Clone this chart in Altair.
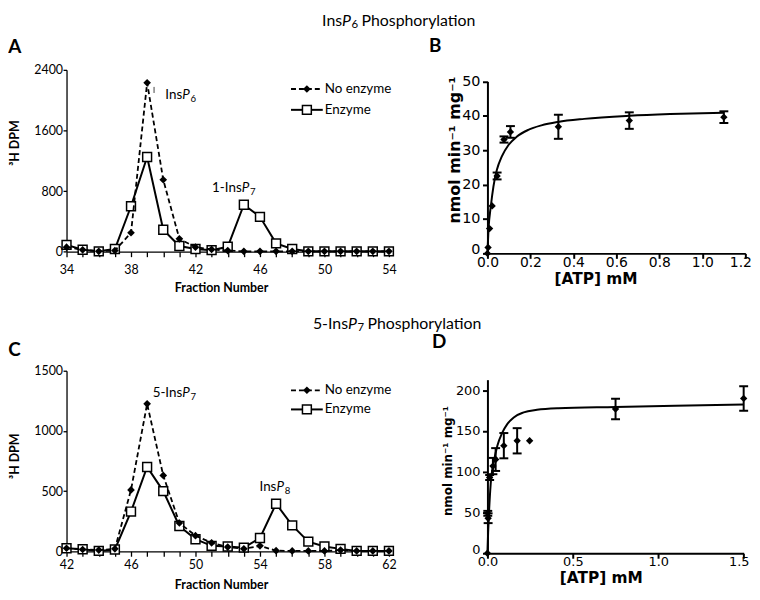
import altair as alt
import pandas as pd

# ---------------- data ----------------
A_fraction = list(range(34, 55))
A_no_enzyme = [60, 25, 5, 15, 250, 2230, 950, 170, 60, 30, 15, 5, 5, 5, 5, 5, 5, 5, 5, 5, 5]
A_enzyme = [90, 25, 5, 35, 600, 1250, 290, 75, 35, 20, 65, 620, 460, 110, 35, 5, 5, 5, 5, 5, 5]

C_fraction = list(range(42, 63))
C_no_enzyme = [25, 15, 10, 20, 510, 1225, 630, 235, 130, 70, 35, 20, 45, 5, 3, 3, 3, 10, 3, 3, 3]
C_enzyme = [25, 17, 3, 15, 330, 700, 500, 210, 100, 45, 40, 30, 110, 395, 215, 80, 40, 20, 3, 3, 3]

B_atp = [0, 0.003, 0.01, 0.022, 0.045, 0.077, 0.107, 0.33, 0.66, 1.1]
B_rate = [0, 1.7, 7.2, 13.8, 22.5, 33.1, 35.3, 36.8, 38.6, 39.6]
B_err = [0, 0, 0, 0, 1.0, 0.9, 1.7, 3.5, 2.4, 1.7]
B_fit_atp = [0, 0.005, 0.016, 0.028, 0.044, 0.067, 0.098, 0.136, 0.19, 0.251, 0.328, 0.45, 0.66, 0.85, 1.1]
B_fit_rate = [0, 7, 13.8, 19.5, 24.3, 28.2, 31.5, 33.9, 35.9, 37.2, 38.2, 39.1, 40.0, 40.5, 40.9]

D_atp = [0, 0.002, 0.004, 0.013, 0.032, 0.048, 0.096, 0.174, 0.247, 0.75, 1.5]
D_rate = [0, 49, 43, 93, 107, 115, 132, 138, 138, 177, 190]
D_err = [0, 3, 6, 3, 10, 14, 15.5, 15.5, 0, 12.5, 15]
D_fit_atp = [0, 0.004, 0.009, 0.019, 0.038, 0.058, 0.087, 0.116, 0.154, 0.212, 0.29, 0.415, 0.75, 1.1, 1.5]
D_fit_rate = [0, 25, 49, 85, 113, 132, 148, 158.5, 166.7, 172.8, 176, 178, 179.5, 181, 182.6]

legend_labels = ["No enzyme", "Enzyme"]

FA = "Lato"
FB = "DejaVu Sans"
K = "black"


def df(**cols):
    return pd.DataFrame(cols)


# ---------------- helpers ----------------
def excel_x(domain, values, start, title_y, label_pad):
    return alt.X(
        "f:Q",
        scale=alt.Scale(domain=domain, nice=False, zero=False),
        axis=alt.Axis(
            values=values,
            labelExpr=f"(datum.value - {start}) % 4 == 0 ? datum.label : ''",
            labelOverlap=False, labelFlush=False, grid=False, title="Fraction Number", format="d",
            domainColor=K, domainWidth=1.3, tickColor=K, tickWidth=1.3, tickSize=5,
            labelFont=FA, labelFontSize=12.5, labelColor=K, labelBaseline="middle",
            labelPadding=label_pad,
            titleFont=FA, titleFontSize=12.5, titleFontWeight="bold", titleColor=K,
            titleX=155.8, titleY=title_y, titleBaseline="middle", titleAlign="center",
        ),
    )


def excel_y(domain, values, title_y):
    return alt.Y(
        "v:Q",
        scale=alt.Scale(domain=domain, nice=False),
        axis=alt.Axis(
            values=values, grid=False, title="³H DPM", format="d",
            domainColor=K, domainWidth=1.3, tickColor=K, tickWidth=1.3, tickSize=3.5,
            labelFont=FA, labelFontSize=12.5, labelColor=K, labelPadding=0.5,
            titleFont=FA, titleFontSize=12.5, titleFontWeight="bold", titleColor=K,
            titleAngle=270, titleX=-52.2, titleY=title_y, titleBaseline="middle",
            titleAlign="center",
        ),
    )


def rich_data(X, Y, x, y, parts, size=13.5):
    # parts: (text, align, dx, italic, sub)
    layers = []
    for text, align, dx, italic, sub in parts:
        layers.append(
            alt.Chart(df(f=[x], v=[y], t=[text])).mark_text(
                align=align, baseline="middle", dx=dx, dy=(size * 0.3 if sub else 0),
                font=FA, fontSize=(size * 0.72 if sub else size),
                fontStyle=("italic" if italic else "normal"), color=K,
            ).encode(x=X, y=Y, text="t:N")
        )
    return layers


def rich_px(px, py, parts, size=16, font=FA, weight="normal"):
    layers = []
    for text, align, dx, italic, sub in parts:
        layers.append(
            alt.Chart(df(t=[text])).mark_text(
                align=align, baseline="middle", dx=dx, dy=(size * 0.3 if sub else 0),
                font=font, fontSize=(size * 0.72 if sub else size), fontWeight=weight,
                fontStyle=("italic" if italic else "normal"), color=K,
            ).encode(x=alt.value(px), y=alt.value(py), text="t:N")
        )
    return layers


def legend(x0, x1, y1, y2):
    xm = (x0 + x1) / 2
    layers = []
    one = df(t=["x"])
    layers.append(alt.Chart(one).mark_rule(color=K, strokeWidth=1.8, strokeDash=[5, 3]).encode(
        x=alt.value(x0), x2=alt.value(x1), y=alt.value(y1)))
    layers.append(alt.Chart(one).mark_point(shape="diamond", size=60, filled=True, color=K, opacity=1).encode(
        x=alt.value(xm), y=alt.value(y1)))
    layers.append(alt.Chart(one).mark_rule(color=K, strokeWidth=2).encode(
        x=alt.value(x0), x2=alt.value(x1), y=alt.value(y2)))
    layers.append(alt.Chart(one).mark_point(shape="square", size=80, filled=True, fill="white",
                                            stroke=K, strokeWidth=1.5, opacity=1).encode(
        x=alt.value(xm), y=alt.value(y2)))
    for lab, yy in zip(legend_labels, [y1, y2]):
        layers.append(alt.Chart(df(t=[lab])).mark_text(
            align="left", baseline="middle", font=FA, fontSize=13.5, color=K
        ).encode(x=alt.value(x1 + 2), y=alt.value(yy), text="t:N"))
    return layers


def excel_series(X, Y, frac, noenz, enz):
    d_enz = df(f=frac, v=enz)
    d_no = df(f=frac, v=noenz)
    return [
        alt.Chart(d_enz).mark_line(color=K, strokeWidth=2).encode(x=X, y=Y),
        alt.Chart(d_enz).mark_point(shape="square", size=80, filled=True, fill="white",
                                    stroke=K, strokeWidth=1.5, opacity=1).encode(x=X, y=Y),
        alt.Chart(d_no).mark_line(color=K, strokeWidth=1.8, strokeDash=[5, 3]).encode(x=X, y=Y),
        alt.Chart(d_no).mark_point(shape="diamond", size=60, filled=True, color=K, opacity=1).encode(x=X, y=Y),
    ]


def letter(ch, px, py):
    return alt.Chart(df(t=[ch])).mark_text(
        align="left", baseline="middle", font=FA, fontSize=19, fontWeight="bold", color=K
    ).encode(x=alt.value(px), y=alt.value(py), text="t:N")


# ---------------- panel A ----------------
XA = excel_x([34, 54], A_fraction, 34, 36, 13)
YA = excel_y([0, 2400], [0, 800, 1600, 2400], 73.3)
A_layers = excel_series(XA, YA, A_fraction, A_no_enzyme, A_enzyme)
A_layers.append(alt.Chart(df(f=[39.43], v=[2095], v2=[2175])).mark_rule(color="#444", strokeWidth=1).encode(
    x=XA, y=YA, y2="v2:Q"))
A_layers += rich_data(XA, YA, 41.18, 2068, [("Ins", "right", 0, False, False),
                                            ("P", "left", 0, True, False),
                                            ("6", "left", 8.3, False, True)])
A_layers += rich_data(XA, YA, 44.87, 842, [("1-Ins", "right", 0, False, False),
                                           ("P", "left", 0, True, False),
                                           ("7", "left", 8.3, False, True)])
A_layers += legend(226.3, 258.3, 19.3, 40.3)
A_layers.append(letter("A", -58.7, -22.7))
A_layers += rich_px(277.8, -49.7, [("Ins", "right", 0, False, False),
                                   ("P", "left", 0, True, False),
                                   ("6", "left", 9.5, False, True),
                                   ("Phosphorylation", "left", 19.5, False, False)])
panelA = alt.layer(*A_layers).properties(width=325, height=183.3)

# ---------------- panel C ----------------
XC = excel_x([42, 62], C_fraction, 42, 34, 8.7)
YC = excel_y([0, 1500], [0, 500, 1000, 1500], 85.7)
C_layers = excel_series(XC, YC, C_fraction, C_no_enzyme, C_enzyme)
C_layers += rich_data(XC, YC, 49.18, 1316, [("5-Ins", "right", 0, False, False),
                                            ("P", "left", 0, True, False),
                                            ("7", "left", 8.3, False, True)])
C_layers += rich_data(XC, YC, 55.02, 533, [("Ins", "right", 0, False, False),
                                           ("P", "left", 0, True, False),
                                           ("8", "left", 8.3, False, True)])
C_layers += legend(226.3, 258.3, 19.7, 39.0)
C_layers.append(letter("C", -58.7, -20.5))
C_layers += rich_px(283.8, -47.5, [("5-Ins", "right", 0, False, False),
                                   ("P", "left", 0, True, False),
                                   ("7", "left", 9.5, False, True),
                                   ("Phosphorylation", "left", 19.5, False, False)])
panelC = alt.layer(*C_layers).properties(width=325, height=182)


# ---------------- kinetics panels ----------------
def kin_x(domain, rng, values, last, tick_font, title_font, title_x, title_y, label_pad):
    return alt.X(
        "atp:Q",
        scale=alt.Scale(domain=domain, range=rng, nice=False, zero=False),
        axis=alt.Axis(
            values=values, format=".1f", title="[ATP] mM", grid=False,
            labelOverlap=False, labelFlush=False,
            domainColor=K, domainWidth=2, tickColor=K, tickWidth=2, tickSize=5,
            labelFont=FB, labelFontSize=tick_font, labelColor=K, labelBaseline="middle",
            labelPadding=label_pad,
            labelOffset={"condition": {"test": f"datum.value > {last}", "value": -5}, "value": 0},
            titleFont=FB, titleFontSize=title_font, titleFontWeight="bold", titleColor=K,
            titleX=title_x, titleY=title_y, titleBaseline="middle", titleAlign="center",
        ),
    )


def kin_y(domain, rng, values, tick_font, title_font, title_x, title_y, label_pad):
    return alt.Y(
        "rate:Q",
        scale=alt.Scale(domain=domain, range=rng, nice=False),
        axis=alt.Axis(
            values=values, title="nmol min⁻¹ mg⁻¹", grid=False,
            domainColor=K, domainWidth=2, tickColor=K, tickWidth=2, tickSize=5,
            labelFont=FB, labelFontSize=tick_font, labelColor=K, labelPadding=label_pad,
            labelOffset={"condition": {"test": "datum.value == 0", "value": -4}, "value": 0},
            titleFont=FB, titleFontSize=title_font, titleFontWeight="bold", titleColor=K,
            titleAngle=270, titleX=title_x, titleY=title_y, titleBaseline="middle",
            titleAlign="center",
        ),
    )


def kin_layers(X, Y, atp, rate, err, fit_atp, fit_rate):
    d = df(atp=atp, rate=rate, err=err)
    d["lo"] = d["rate"] - d["err"]
    d["hi"] = d["rate"] + d["err"]
    de = d[d["err"] > 0]
    dl = de.assign(rate=de["lo"])
    dh = de.assign(rate=de["hi"])
    return [
        alt.Chart(df(atp=fit_atp, rate=fit_rate)).mark_line(
            color=K, strokeWidth=2, interpolate="monotone").encode(x=X, y=Y),
        alt.Chart(dl).mark_rule(color=K, strokeWidth=2).encode(x=X, y=Y, y2="hi:Q"),
        alt.Chart(dl).mark_tick(color=K, orient="horizontal", size=9, thickness=2, opacity=1).encode(x=X, y=Y),
        alt.Chart(dh).mark_tick(color=K, orient="horizontal", size=9, thickness=2, opacity=1).encode(x=X, y=Y),
        alt.Chart(d).mark_point(shape="diamond", size=55, filled=True, color=K, opacity=1).encode(x=X, y=Y),
    ]


XB = kin_x([0, 1.2], [0, 260], [0, 0.2, 0.4, 0.6, 0.8, 1.0, 1.2], 1.15, 14, 15.5, 109, 25, 4.5)
YB = kin_y([0, 50], [185, 11.6], [0, 10, 20, 30, 40, 50], 14.5, 16, -33, 80.3, 2.5)
B_layers = kin_layers(XB, YB, B_atp, B_rate, B_err, B_fit_atp, B_fit_rate)
B_layers.append(letter("B", -59, -23.7))
panelB = alt.layer(*B_layers).properties(width=260, height=185)

XD = kin_x([0, 1.5], [0, 258.3], [0, 0.5, 1.0, 1.5], 1.45, 13, 15.5, 114.3, 24.5, 3.5)
YD = kin_y([0, 213], [184, 9], [0, 50, 100, 150, 200], 13, 12, -40, 90.5, 2.5)
D_layers = kin_layers(XD, YD, D_atp, D_rate, D_err, D_fit_atp, D_fit_rate)
D_layers.append(letter("D", -56, -28.5))
panelD = alt.layer(*D_layers).properties(width=260, height=184)

chart = alt.concat(
    panelA, panelB, panelC, panelD,
    columns=2,
    spacing=alt.RowColnumber(row=118.3, column=99.3),
    bounds="flush",
    align="each",
    padding={"top": 2, "left": 0, "right": 0, "bottom": 0},
).configure_view(strokeWidth=0)

chart.save("out.html", embed_options={"renderer": "svg", "actions": False})
